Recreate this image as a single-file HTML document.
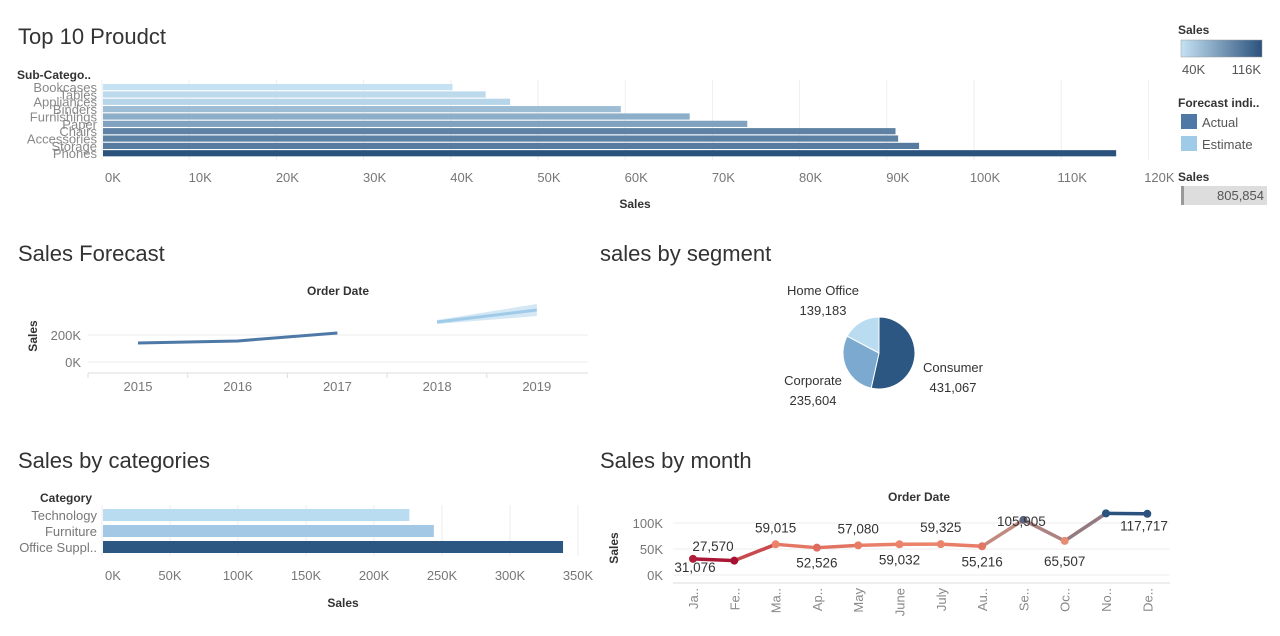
<!DOCTYPE html>
<html><head><meta charset="utf-8">
<style>
body{margin:0;background:#fff;font-family:"Liberation Sans",sans-serif;}
svg text{font-family:"Liberation Sans",sans-serif;}
</style></head>
<body>
<svg id="s" width="1280" height="631" xmlns="http://www.w3.org/2000/svg">
<defs>
<linearGradient id="lg" x1="0" x2="1"><stop offset="0" stop-color="#c5e2f3"/><stop offset="1" stop-color="#2b527d"/></linearGradient>
</defs>
<text x="18" y="44" font-size="22" fill="#333">Top 10 Proudct</text>
<text x="17" y="79" font-size="12" font-weight="bold" fill="#333">Sub-Catego..</text>
<text x="635" y="208" font-size="12" font-weight="bold" fill="#333" text-anchor="middle">Sales</text>
<g id="topChart"></g>
<text x="18" y="261" font-size="22" fill="#333">Sales Forecast</text>
<text x="338" y="295" font-size="12" font-weight="bold" fill="#333" text-anchor="middle">Order Date</text>
<text x="37" y="336" font-size="12" font-weight="bold" fill="#333" text-anchor="middle" transform="rotate(-90 37 336)">Sales</text>
<g id="fc"></g>
<text x="600" y="261" font-size="22" fill="#333">sales by segment</text>
<g id="pie"></g>
<text x="18" y="468" font-size="22" fill="#333">Sales by categories</text>
<text x="40" y="502" font-size="12" font-weight="bold" fill="#333">Category</text>
<text x="343" y="607" font-size="12" font-weight="bold" fill="#333" text-anchor="middle">Sales</text>
<g id="cat"></g>
<text x="600" y="468" font-size="22" fill="#333">Sales by month</text>
<text x="919" y="501" font-size="12" font-weight="bold" fill="#333" text-anchor="middle">Order Date</text>
<text x="618" y="548" font-size="12" font-weight="bold" fill="#333" text-anchor="middle" transform="rotate(-90 618 548)">Sales</text>
<g id="mon"></g>
<g>
<text x="1178" y="34" font-size="12" font-weight="bold" fill="#333">Sales</text>
<rect x="1181" y="40" width="81" height="17" fill="url(#lg)" stroke="#999" stroke-width="0.5"/>
<text x="1182" y="74" font-size="13" fill="#555">40K</text>
<text x="1261" y="74" font-size="13" fill="#555" text-anchor="end">116K</text>
<text x="1178" y="107" font-size="12" font-weight="bold" fill="#333">Forecast indi..</text>
<rect x="1181" y="114" width="16" height="15" fill="#4e79a7"/>
<text x="1202" y="127" font-size="13" fill="#555">Actual</text>
<rect x="1181" y="136" width="16" height="15" fill="#a0cbe8"/>
<text x="1202" y="149" font-size="13" fill="#555">Estimate</text>
<text x="1178" y="181" font-size="12" font-weight="bold" fill="#333">Sales</text>
<rect x="1181" y="186" width="86" height="19" fill="#ddd"/>
<rect x="1181" y="186" width="3" height="19" fill="#999"/>
<text x="1264" y="200" font-size="13" fill="#555" text-anchor="end">805,854</text>
</g>
</svg>
<script>
const NS="http://www.w3.org/2000/svg";
function mk(p,t,a,txt){const e=document.createElementNS(NS,t);for(const k in a)e.setAttribute(k,a[k]);if(txt!==undefined)e.textContent=String(txt);p.appendChild(e);return e;}
// ---- data ----
const subCats=["Bookcases","Tables","Appliances","Binders","Furnishings","Paper","Chairs","Accessories","Storage","Phones"];
const subSales=[40.2,44.0,46.8,59.5,67.4,74.0,91.0,91.3,93.7,116.3];
const topTicks=[0,10,20,30,40,50,60,70,80,90,100,110,120];
const fcYears=[2015,2016,2017,2018,2019];
const fcActual=[141,156,215];
const fcEstimate=[296,385];
const segNames=["Consumer","Corporate","Home Office"];
const segValues=[431067,235604,139183];
const catNames=["Technology","Furniture","Office Suppl.."];
const catSales=[226,244,339];
const catTicks=[0,50,100,150,200,250,300,350];
const months=["Ja..","Fe..","Ma..","Ap..","May","June","July","Au..","Se..","Oc..","No..","De.."];
const monthSales=[31076,27570,59015,52526,57080,59032,59325,55216,105905,65507,118500,117717];
const monthTicks=[0,50,100];
// ---- top chart ----
const topG=document.getElementById('topChart');
const tx=v=>102+v*8.72;
topTicks.forEach(t=>{mk(topG,'line',{x1:tx(t),x2:tx(t),y1:80,y2:160,stroke:'#eee'});
 const l=mk(topG,'text',{x:tx(t)+11,y:182,'font-size':13,fill:'#777','text-anchor':'middle'},t+'K');
 });
function ramp(v,lo,hi){const t=Math.max(0,Math.min(1,(v-lo)/(hi-lo)));const a=[197,226,243],b=[43,82,125];return `rgb(${a.map((c,i)=>Math.round(c+(b[i]-c)*t)).join(',')})`;}
subCats.forEach((c,i)=>{const y=84+i*7.35;
 const r=mk(topG,'rect',{x:103,y:y,width:tx(subSales[i])-103,height:6.2,fill:ramp(subSales[i],40,116)});
 
 const l=mk(topG,'text',{x:97,y:y+8,'font-size':13,fill:'#888','text-anchor':'end'},c);
 });
// ---- forecast ----
const fc=document.getElementById('fc');
const fx=y=>138+(y-2015)*99.7, fy=v=>362-v*0.135;
[0,200].forEach(t=>{mk(fc,'line',{x1:88,x2:588,y1:fy(t),y2:fy(t),stroke:'#eee'});
 const l=mk(fc,'text',{x:81,y:fy(t)+5,'font-size':13,fill:'#777','text-anchor':'end'},t+'K');
 });
mk(fc,'line',{x1:88,x2:588,y1:373,y2:373,stroke:'#ddd'});
fcYears.forEach(y=>{mk(fc,'line',{x1:fx(y)-50,x2:fx(y)-50,y1:373,y2:378,stroke:'#ddd'});
 const l=mk(fc,'text',{x:fx(y),y:391,'font-size':13,fill:'#777','text-anchor':'middle'},y);
 });
let pl=mk(fc,'polyline',{points:fcActual.map((v,i)=>fx(2015+i)+','+fy(v)).join(' '),fill:'none',stroke:'#4e79a7','stroke-width':3});

const e0=[fx(2018),fy(fcEstimate[0])],e1=[fx(2019),fy(fcEstimate[1])];
pl=mk(fc,'polygon',{points:`${e0[0]},${e0[1]-2} ${e1[0]},${e1[1]-6} ${e1[0]},${e1[1]+6} ${e0[0]},${e0[1]+2}`,fill:'#d3e7f5'});

pl=mk(fc,'polyline',{points:fcEstimate.map((v,i)=>fx(2018+i)+','+fy(v)).join(' '),fill:'none',stroke:'#a0cbe8','stroke-width':3});

// ---- pie ----
const pieG=document.getElementById('pie');
const pcx=879,pcy=353,R=36,cols=['#2b5782','#7ba9cf','#badcf0'];
const tot=segValues.reduce((a,b)=>a+b,0);let ang=0;
segValues.forEach((v,i)=>{const a0=ang,a1=ang+v/tot*2*Math.PI;ang=a1;
 const x0=pcx+R*Math.sin(a0),y0=pcy-R*Math.cos(a0),x1=pcx+R*Math.sin(a1),y1=pcy-R*Math.cos(a1);
 const s=mk(pieG,'path',{d:`M${pcx},${pcy}L${x0},${y0}A${R},${R} 0 ${a1-a0>Math.PI?1:0} 1 ${x1},${y1}Z`,fill:cols[i],stroke:'#fff','stroke-width':1});
 });
const segLab=[[953,372],[813,385],[823,295]];
segNames.forEach((n,i)=>{const l=mk(pieG,'text',{x:segLab[i][0],y:segLab[i][1],'font-size':13,fill:'#333','text-anchor':'middle'},n);
 
 const v=mk(pieG,'text',{x:segLab[i][0],y:segLab[i][1]+20,'font-size':13,fill:'#333','text-anchor':'middle'},segValues[i].toLocaleString('en-US'));
 });
// ---- categories ----
const catG=document.getElementById('cat');
const cx2=v=>102+v*1.36;
catTicks.forEach(t=>{mk(catG,'line',{x1:cx2(t),x2:cx2(t),y1:505,y2:556,stroke:'#eee'});
 const l=mk(catG,'text',{x:cx2(t)+(t==0?11:0),y:580,'font-size':13,fill:'#777','text-anchor':'middle'},t+'K');
 });
const catCols=['#badcf0','#a3c8e6','#2b5782'];
catNames.forEach((c,i)=>{const y=509+i*16;
 const r=mk(catG,'rect',{x:103,y:y,width:cx2(catSales[i])-103,height:12,fill:catCols[i]});
 
 const l=mk(catG,'text',{x:97,y:y+11,'font-size':13,fill:'#777','text-anchor':'end'},c);
 });
// ---- month ----
const monG=document.getElementById('mon');
const mx=i=>693+i*41.3, my=v=>575-v*0.00052;
monthTicks.forEach(t=>{mk(monG,'line',{x1:673,x2:1170,y1:my(t*1000),y2:my(t*1000),stroke:'#eee'});
 const l=mk(monG,'text',{x:663,y:my(t*1000)+5,'font-size':13,fill:'#777','text-anchor':'end'},t+'K');
 });
mk(monG,'line',{x1:673,x2:1170,y1:583,y2:583,stroke:'#ddd'});
function mcol(v){const t=Math.max(0,Math.min(1,(v-27000)/(118000-27000)));
 const st=[[0,[165,15,50]],[0.35,[235,130,105]],[0.5,[225,150,130]],[1,[43,82,125]]];
 for(let k=1;k<st.length;k++){if(t<=st[k][0]){const a=st[k-1][1],b=st[k][1];const u=(t-st[k-1][0])/(st[k][0]-st[k-1][0]);return `rgb(${a.map((c,j)=>Math.round(c+(b[j]-c)*u)).join(',')})`;}}return 'rgb(43,82,125)';}
for(let i=0;i<months.length-1;i++){const g=mk(monG,'line',{x1:mx(i),y1:my(monthSales[i]),x2:mx(i+1),y2:my(monthSales[i+1]),stroke:mcol((monthSales[i]+monthSales[i+1])/2),'stroke-width':3.5,'stroke-linecap':'round'});
 }
const labOff=[[0,0],[0,0],[0,-12],[0,20],[0,-12],[0,20],[0,-12],[0,20],[-2,6],[0,25],[38,17],[0,0]];
months.forEach((m,i)=>{const c=mk(monG,'circle',{cx:mx(i),cy:my(monthSales[i]),r:4,fill:mcol(monthSales[i])});
 
 if(i<11){let lx=mx(i)+labOff[i][0],ly=my(monthSales[i])+labOff[i][1];
  if(i==0){lx=mx(0)+2;ly=my(monthSales[0])+13;}
  if(i==1){lx=mx(0)+20;ly=my(monthSales[0])-8;}
  const l=mk(monG,'text',{x:lx,y:ly,'font-size':13.5,fill:'#333','text-anchor':'middle'},(i==10?117717:monthSales[i]).toLocaleString('en-US'));
  }
 const t=mk(monG,'text',{x:0,y:0,'font-size':13,fill:'#888','text-anchor':'end',transform:`translate(${mx(i)+5},588) rotate(-90)`},m);
 });
</script>
</body></html>
